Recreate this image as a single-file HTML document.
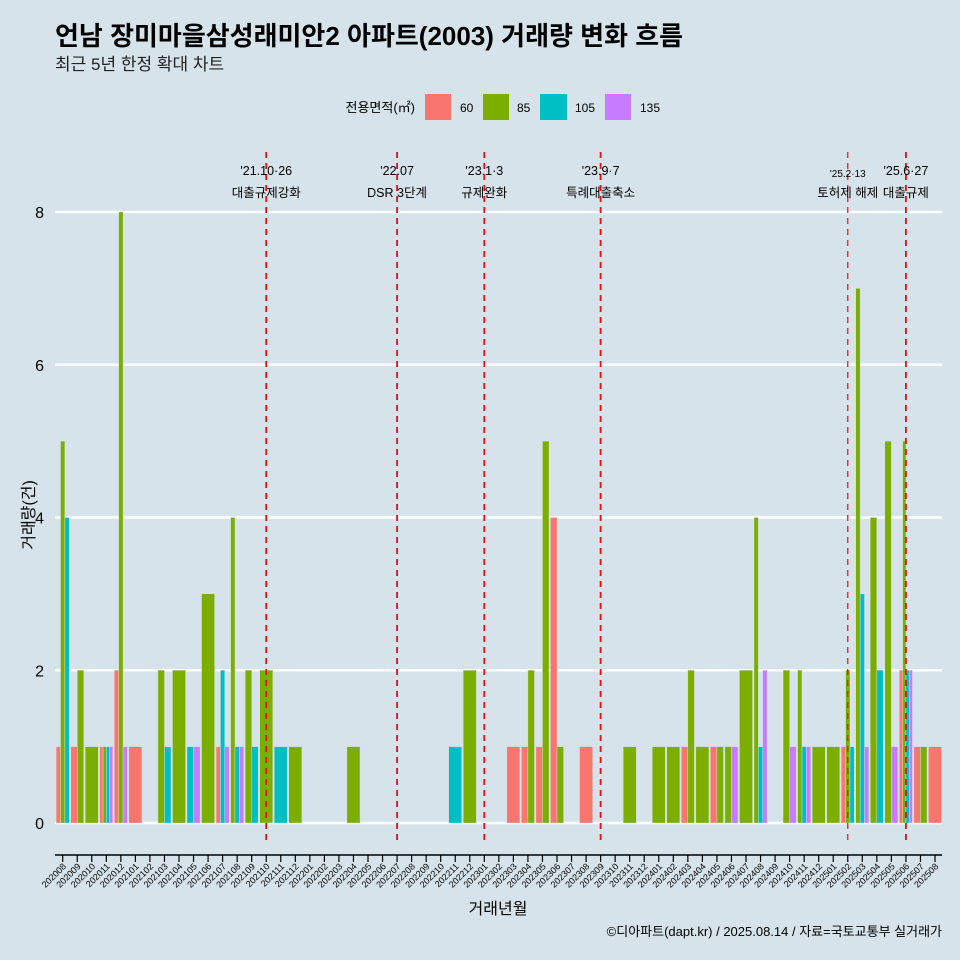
<!DOCTYPE html>
<html><head><meta charset="utf-8"><style>
body{margin:0;background:#d6e3ea;}
svg{display:block;font-family:"Liberation Sans","Noto Sans CJK KR",sans-serif;}
</style></head><body>
<svg id="chart" width="960" height="960" viewBox="0 0 960 960">
<rect x="0" y="0" width="960" height="960" fill="#d6e3ea"/>
<text x="55" y="45" font-size="26" font-weight="bold" fill="#000">언남 장미마을삼성래미안2 아파트(2003) 거래량 변화 흐름</text>
<text x="55" y="70" font-size="17" fill="#222">최근 5년 한정 확대 차트</text>
<g>
<text x="415" y="112" font-size="13" text-anchor="end">전용면적(㎡)</text>
<rect x="425" y="94" width="26" height="26" fill="#F8766D"/>
<text x="460" y="112" font-size="12">60</text>
<rect x="483" y="94" width="26" height="26" fill="#7CAE00"/>
<text x="517" y="112" font-size="12">85</text>
<rect x="540" y="94" width="27" height="26" fill="#00BFC4"/>
<text x="575" y="112" font-size="12">105</text>
<rect x="605" y="94" width="26" height="26" fill="#C77CFF"/>
<text x="640" y="112" font-size="12">135</text>
</g>
<g id="grid"></g><g id="bars"></g><g id="events"></g><g id="axes"></g>
<text x="498" y="914" font-size="16" text-anchor="middle">거래년월</text>
<text transform="translate(34,515) rotate(-90)" font-size="16" text-anchor="middle">거래량(건)</text>
<text x="942" y="936" font-size="13" text-anchor="end">©디아파트(dapt.kr) / 2025.08.14 / 자료=국토교통부 실거래가</text>
</svg>
<script>
const months=["202008","202009","202010","202011","202012","202101","202102","202103","202104","202105","202106","202107","202108","202109","202110","202111","202112","202201","202202","202203","202204","202205","202206","202207","202208","202209","202210","202211","202212","202301","202302","202303","202304","202305","202306","202307","202308","202309","202310","202311","202312","202401","202402","202403","202404","202405","202406","202407","202408","202409","202410","202411","202412","202501","202502","202503","202504","202505","202506","202507","202508"];
const areas=["60","85","105","135"];
const colors=["#F8766D","#7CAE00","#00BFC4","#C77CFF"];
const s60 =[1,1,0,1,2,1,0,0,0,0,0,1,0,0,0,0,0,0,0,0,0,0,0,0,0,0,0,0,0,0,0,1,1,1,4,0,1,0,0,0,0,0,0,1,0,1,0,0,0,0,0,0,0,0,1,0,0,0,2,1,1];
const s85 =[5,2,1,1,8,0,0,2,2,0,3,0,4,2,2,0,1,0,0,0,1,0,0,0,0,0,0,0,2,0,0,0,2,5,1,0,0,0,0,1,0,1,1,2,1,1,1,2,4,0,2,2,1,1,2,7,4,5,5,1,0];
const s105=[4,0,0,1,0,0,0,1,0,1,0,2,1,1,0,1,0,0,0,0,0,0,0,0,0,0,0,1,0,0,0,0,0,0,0,0,0,0,0,0,0,0,0,0,0,0,0,0,1,0,0,1,0,0,1,3,2,0,2,0,0];
const s135=[0,0,0,1,1,0,0,0,0,1,0,1,1,0,0,0,0,0,0,0,0,0,0,0,0,0,0,0,0,0,0,0,0,0,0,0,0,0,0,0,0,0,0,0,0,0,1,0,2,0,1,1,0,0,0,1,0,1,2,0,0];
const yTicks=[0,2,4,6,8];
const eventMonths=["202110","202207","202301","202309","202502","202506"];
const eventDates=["'21.10·26","'22.07","'23.1·3","'23.9·7","'25.2·13","'25.6·27"];
const eventLabels=["대출규제강화","DSR 3단계","규제완화","특례대출축소","토허제 해제","대출규제"];

const NS="http://www.w3.org/2000/svg";
const X0=62.7,STEP=(935-62.7)/60,Y0=823,YU=(823-212)/8;
const xs=i=>X0+i*STEP, ys=v=>Y0-v*YU;
function mk(tag,attrs,parent){const e=document.createElementNS(NS,tag);for(const k in attrs)e.setAttribute(k,attrs[k]);parent.appendChild(e);return e;}
const grid=document.getElementById('grid'),bars=document.getElementById('bars'),ev=document.getElementById('events'),ax=document.getElementById('axes');
yTicks.forEach(t=>{
  const l=mk('line',{x1:55,x2:942,y1:ys(t),y2:ys(t),stroke:'#fff','stroke-width':2.5},grid);
  
  
  const tx=mk('text',{x:44,y:ys(t)+6,'font-size':16,'text-anchor':'end'},ax);
  tx.textContent=t;
  
  
});
const series=[s60,s85,s105,s135];
months.forEach((m,i)=>{
  const present=[];series.forEach((s,k)=>{if(s[i]>0)present.push(k);});
  const W=STEP*0.9,bw=W/Math.max(present.length,1);
  present.forEach((k,j)=>{
    const v=series[k][i];
    const r=mk('rect',{x:xs(i)-W/2+j*bw,y:ys(v),width:bw,height:ys(0)-ys(v),fill:colors[k],stroke:'#d6e3ea','stroke-width':0.4},bars);
    
    
  });
  const tk=mk('line',{x1:xs(i),x2:xs(i),y1:855,y2:862,stroke:'#000','stroke-width':1.2},ax);
  
  
  const lb=mk('text',{transform:`translate(${xs(i)+4},867) rotate(-45)`,'font-size':9,'text-anchor':'end'},ax);
  lb.textContent=m;
  
  
});
const axl=mk('line',{x1:55,x2:942,y1:855,y2:855,stroke:'#000','stroke-width':1.5},ax);


eventMonths.forEach((m,k)=>{
  const x=xs(months.indexOf(m));
  const small=(k===4);
  const l=mk('line',{x1:x,x2:x,y1:152,y2:842,stroke:'#e01010','stroke-width':small?1.2:1.8,'stroke-dasharray':'6,5'},ev);
  
  
  const t1=mk('text',{x:x,y:small?177:175,'font-size':small?10:12.5,'text-anchor':'middle'},ev);
  t1.textContent=eventDates[k];
  
  
  const t2=mk('text',{x:x,y:197,'font-size':12.5,'text-anchor':'middle'},ev);
  t2.textContent=eventLabels[k];
  
  
});
</script>
</body></html>
